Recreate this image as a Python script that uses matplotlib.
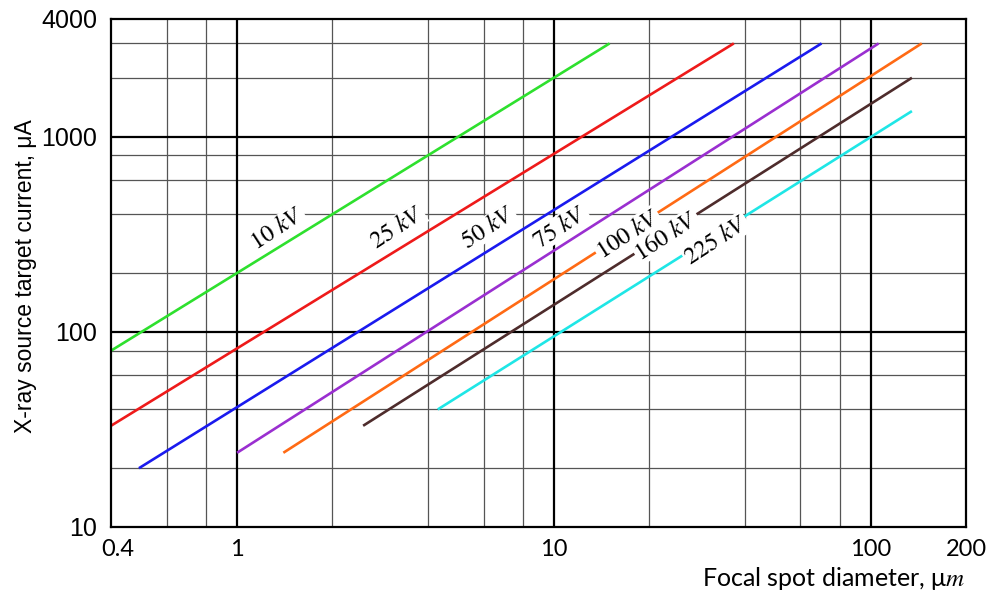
import matplotlib
matplotlib.use("Agg")
import matplotlib.pyplot as plt
from matplotlib.ticker import FixedLocator
import matplotlib.transforms as mtransforms

plt.rcParams['font.family'] = ['Lato', 'DejaVu Sans']
plt.rcParams['mathtext.fontset'] = 'stix'

# ---- data ----
series_labels = ['10', '25', '50', '75', '100', '160', '225']
series_colors = ['#2ee02e', '#ee1a1a', '#1a1aee', '#9a2fd0', '#ff6a14', '#4e2c2c', '#1fe6e6']
x_start = [0.4, 0.4, 0.49, 1.0, 1.4, 2.5, 4.3]
y_start = [80, 33, 20, 24, 24, 33, 40]
x_end = [15, 37, 70, 106, 145, 135, 135]
y_end = [3000, 3000, 3000, 3000, 3000, 2000, 1350]

label_x = [1.34, 3.2, 6.2, 10.5, 17.1, 22.7, 32.5]
label_y = [338, 342, 342, 345, 317, 310, 295]

x_major = [1, 10, 100]
x_minor = [0.6, 0.8, 2, 4, 6, 8, 20, 40, 60, 80]
y_major = [100, 1000]
y_minor = [20, 40, 60, 80, 200, 400, 600, 800, 2000, 3000]
x_ticks = [0.4, 1, 10, 100, 200]
x_ticklabels = ['0.4', '1', '10', '100', '200']
y_ticks = [10, 100, 1000, 4000]
y_ticklabels = ['10', '100', '1000', '4000']

fig = plt.figure(figsize=(9.93, 5.93), dpi=100)
ax = fig.add_axes([111/993, 1-527/593, (966-111)/993, (527-19)/593])
ax.set_xscale('log')
ax.set_yscale('log')
ax.set_xlim(0.4, 200)
ax.set_ylim(10, 4000)

# grid lines
for v in x_minor:
    ax.axvline(v, color='#555555', lw=0.9, zorder=1)
for v in y_minor:
    ax.axhline(v, color='#555555', lw=0.9, zorder=1)
for v in x_major:
    ax.axvline(v, color='black', lw=1.6, zorder=1.5)
for v in y_major:
    ax.axhline(v, color='black', lw=1.6, zorder=1.5)

for xs, ys, xe, ye, c in zip(x_start, y_start, x_end, y_end, series_colors):
    ax.plot([xs, xe], [ys, ye], color=c, lw=1.9, solid_capstyle='butt', zorder=3)

for lab, lx, ly in zip(series_labels, label_x, label_y):
    ax.text(lx, ly, r'$%s\ kV$' % lab, fontsize=17.5, rotation=33,
            rotation_mode='anchor', ha='center', va='center', zorder=5,
            bbox=dict(boxstyle='square,pad=0.04', facecolor='white', edgecolor='none'))

ax.xaxis.set_major_locator(FixedLocator(x_ticks))
ax.xaxis.set_minor_locator(FixedLocator([]))
ax.yaxis.set_major_locator(FixedLocator(y_ticks))
ax.yaxis.set_minor_locator(FixedLocator([]))
ax.set_xticklabels(x_ticklabels, fontsize=17, family=['Lato', 'DejaVu Sans'])
ax.set_yticklabels(y_ticklabels, fontsize=18, family=['Liberation Sans', 'DejaVu Sans'])
ax.tick_params(axis='both', which='both', length=0)
ax.tick_params(axis='x', pad=9)
ax.tick_params(axis='y', pad=10)

# shift the first x tick label slightly right like the reference
offset = mtransforms.ScaledTranslation(7/100, 0, fig.dpi_scale_trans)
lbl0 = ax.get_xticklabels()[0]
lbl0.set_transform(lbl0.get_transform() + offset)

for s in ax.spines.values():
    s.set_linewidth(1.6)
    s.set_color('black')
    s.set_zorder(6)

fig.text(965/993, 1-578/593, r'Focal spot diameter, μ$m$', fontsize=18,
         ha='right', va='center', family=['Lato', 'DejaVu Sans'])
fig.text(26/993, 1-276/593, 'X-ray source target current, μA', fontsize=16.5,
         ha='center', va='center', rotation=90,
         family=['Liberation Sans', 'DejaVu Sans'])

fig.savefig('out.png', dpi=100)
